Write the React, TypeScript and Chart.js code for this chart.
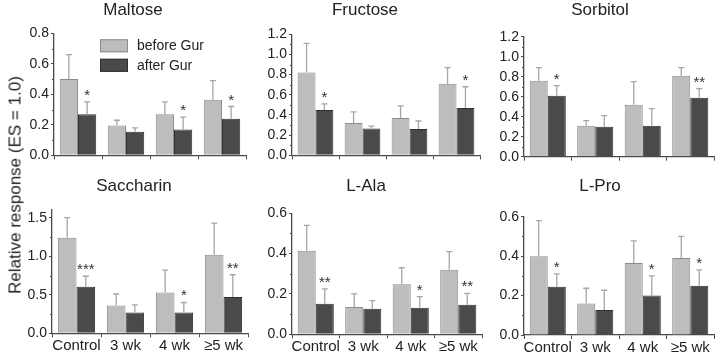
import React, { useEffect, useRef } from "react";
import { Chart, registerables } from "chart.js";

Chart.register(...registerables);

const FONT = "'Liberation Sans', Arial, Helvetica, sans-serif";

const categories = ["Control", "3 wk", "4 wk", "\u22655 wk"];
const seriesNames = ["before Gur", "after Gur"];
const yAxisTitle = "Relative response (ES = 1.0)";

// Maltose
const maltoseBefore = [0.5, 0.195, 0.27, 0.365];
const maltoseBeforeSem = [0.16, 0.035, 0.08, 0.125];
const maltoseAfter = [0.27, 0.155, 0.17, 0.24];
const maltoseAfterSem = [0.08, 0.025, 0.08, 0.08];
const maltoseStars = ["*", "", "*", "*"];

// Fructose
const fructoseBefore = [0.82, 0.32, 0.37, 0.71];
const fructoseBeforeSem = [0.29, 0.11, 0.12, 0.16];
const fructoseAfter = [0.45, 0.265, 0.26, 0.47];
const fructoseAfterSem = [0.06, 0.025, 0.08, 0.21];
const fructoseStars = ["*", "", "", "*"];

// Sorbitol
const sorbitolBefore = [0.76, 0.31, 0.52, 0.81];
const sorbitolBeforeSem = [0.13, 0.05, 0.23, 0.08];
const sorbitolAfter = [0.61, 0.3, 0.31, 0.59];
const sorbitolAfterSem = [0.1, 0.11, 0.17, 0.09];
const sorbitolStars = ["*", "", "", "**"];

// Saccharin
const saccharinBefore = [1.24, 0.36, 0.53, 1.02];
const saccharinBeforeSem = [0.26, 0.15, 0.29, 0.41];
const saccharinAfter = [0.605, 0.27, 0.27, 0.47];
const saccharinAfterSem = [0.135, 0.1, 0.13, 0.29];
const saccharinStars = ["***", "", "*", "**"];

// L-Ala
const alaBefore = [0.414, 0.135, 0.248, 0.32];
const alaBeforeSem = [0.126, 0.065, 0.082, 0.09];
const alaAfter = [0.152, 0.127, 0.132, 0.147];
const alaAfterSem = [0.073, 0.04, 0.055, 0.056];
const alaStars = ["**", "", "*", "**"];

// L-Pro
const proBefore = [0.4, 0.16, 0.365, 0.39];
const proBeforeSem = [0.18, 0.077, 0.112, 0.11];
const proAfter = [0.245, 0.127, 0.2, 0.25];
const proAfterSem = [0.065, 0.1, 0.1, 0.08];
const proStars = ["*", "", "*", "*"];

type Panel = {
  title: string;
  before: number[];
  beforeSem: number[];
  after: number[];
  afterSem: number[];
  stars: string[];
  yMax: number;
  yStep: number;
  showX: boolean;
  legend: boolean;
  // layout (canvas coordinates)
  left: number;
  top: number;
  width: number;
  height: number;
  areaLeft: number;
  areaRight: number;
  areaTop: number;
  areaBottom: number;
  titleTop: number;
};

const panels: Panel[] = [
  { title: "Maltose", before: maltoseBefore, beforeSem: maltoseBeforeSem, after: maltoseAfter, afterSem: maltoseAfterSem, stars: maltoseStars, yMax: 0.8, yStep: 0.2, showX: false, legend: true,
    left: 20, top: 0, width: 230, height: 170, areaLeft: 34, areaRight: 226, areaTop: 33.3, areaBottom: 155.3, titleTop: 0 },
  { title: "Fructose", before: fructoseBefore, beforeSem: fructoseBeforeSem, after: fructoseAfter, afterSem: fructoseAfterSem, stars: fructoseStars, yMax: 1.2, yStep: 0.2, showX: false, legend: false,
    left: 250, top: 0, width: 236, height: 170, areaLeft: 42, areaRight: 230, areaTop: 34.3, areaBottom: 155.3, titleTop: 0 },
  { title: "Sorbitol", before: sorbitolBefore, beforeSem: sorbitolBeforeSem, after: sorbitolAfter, afterSem: sorbitolAfterSem, stars: sorbitolStars, yMax: 1.2, yStep: 0.2, showX: false, legend: false,
    left: 486, top: 0, width: 234, height: 170, areaLeft: 38, areaRight: 228, areaTop: 36.7, areaBottom: 156.7, titleTop: 0 },
  { title: "Saccharin", before: saccharinBefore, beforeSem: saccharinBeforeSem, after: saccharinAfter, afterSem: saccharinAfterSem, stars: saccharinStars, yMax: 1.6, yStep: 0.5, showX: true, legend: false,
    left: 20, top: 170, width: 230, height: 185, areaLeft: 32, areaRight: 228, areaTop: 40, areaBottom: 163.3, titleTop: 6 },
  { title: "L-Ala", before: alaBefore, beforeSem: alaBeforeSem, after: alaAfter, afterSem: alaAfterSem, stars: alaStars, yMax: 0.6, yStep: 0.2, showX: true, legend: false,
    left: 250, top: 170, width: 236, height: 185, areaLeft: 42, areaRight: 232, areaTop: 43.3, areaBottom: 164.3, titleTop: 6 },
  { title: "L-Pro", before: proBefore, beforeSem: proBeforeSem, after: proAfter, afterSem: proAfterSem, stars: proStars, yMax: 0.6, yStep: 0.2, showX: true, legend: false,
    left: 486, top: 170, width: 234, height: 185, areaLeft: 38, areaRight: 228, areaTop: 46.7, areaBottom: 165, titleTop: 6 },
];

const LIGHT = "#bdbdbd";
const LIGHT_BORDER = "#8c8c8c";
const DARK = "#4a4a4a";
const DARK_BORDER = "#2f2f2f";
const AXIS = "#4a4a4a";
const TEXT = "#222222";

const errorStarPlugin = {
  id: "errorStars",
  afterDatasetsDraw(chart: any) {
    const { ctx } = chart;
    const yScale = chart.scales.y;
    chart.data.datasets.forEach((ds: any, di: number) => {
      const meta = chart.getDatasetMeta(di);
      meta.data.forEach((bar: any, i: number) => {
        const v = ds.data[i];
        const e = ds.sem[i];
        const yTop = yScale.getPixelForValue(v + e);
        ctx.save();
        ctx.strokeStyle = "#a6a6a6";
        ctx.lineWidth = 1.3;
        ctx.beginPath();
        ctx.moveTo(bar.x, bar.y);
        ctx.lineTo(bar.x, yTop);
        ctx.moveTo(bar.x - 3, yTop);
        ctx.lineTo(bar.x + 3, yTop);
        ctx.stroke();
        const s = ds.stars ? ds.stars[i] : "";
        if (s) {
          ctx.fillStyle = "#333";
          ctx.font = `15px ${FONT}`;
          ctx.textAlign = "center";
          ctx.textBaseline = "alphabetic";
          ctx.fillText(s, bar.x, yTop - 2);
        }
        ctx.restore();
      });
    });
  },
};

const minorTickPlugin = {
  id: "minorTicks",
  afterDraw(chart: any, _args: any, opts: any) {
    const step = opts && opts.step;
    if (!step) return;
    const { ctx } = chart;
    const y = chart.scales.y;
    const x0 = chart.chartArea.left;
    ctx.save();
    ctx.strokeStyle = AXIS;
    ctx.lineWidth = 1;
    for (let v = step / 2; v < y.max; v += step) {
      const py = Math.round(y.getPixelForValue(v)) + 0.5;
      ctx.beginPath();
      ctx.moveTo(x0 - 2, py);
      ctx.lineTo(x0, py);
      ctx.stroke();
    }
    ctx.restore();
  },
};

const gurLegendPlugin = {
  id: "gurLegend",
  afterDraw(chart: any, _args: any, opts: any) {
    if (!opts || !opts.show) return;
    const { ctx, chartArea } = chart;
    const bx = chartArea.left + 46;
    const rows = [chartArea.top + 6, chartArea.top + 25.5];
    chart.data.datasets.forEach((ds: any, i: number) => {
      const by = rows[i];
      ctx.save();
      ctx.fillStyle = ds.backgroundColor;
      ctx.strokeStyle = ds.borderColor;
      ctx.lineWidth = 1;
      ctx.fillRect(bx, by, 28, 13);
      ctx.strokeRect(bx + 0.5, by + 0.5, 27, 12);
      ctx.fillStyle = TEXT;
      ctx.font = `14px ${FONT}`;
      ctx.textAlign = "left";
      ctx.textBaseline = "middle";
      ctx.fillText(ds.label, bx + 37, by + 7);
      ctx.restore();
    });
  },
};

function PanelChart({ p }: { p: Panel }) {
  const ref = useRef<HTMLCanvasElement | null>(null);
  useEffect(() => {
    if (!ref.current) return;
    const titleLine = 17 * 1.2;
    const chart = new Chart(ref.current, {
      type: "bar",
      data: {
        labels: categories,
        datasets: [
          {
            label: seriesNames[0],
            data: p.before,
            sem: p.beforeSem,
            stars: null,
            backgroundColor: LIGHT,
            borderColor: LIGHT_BORDER,
            borderWidth: 1,
            categoryPercentage: 0.76,
            barPercentage: 1,
          } as any,
          {
            label: seriesNames[1],
            data: p.after,
            sem: p.afterSem,
            stars: p.stars,
            backgroundColor: DARK,
            borderColor: DARK_BORDER,
            borderWidth: 1,
            categoryPercentage: 0.76,
            barPercentage: 1,
          } as any,
        ],
      },
      options: {
        responsive: false,
        animation: false,
        devicePixelRatio: 1,
        layout: { padding: { left: 0, right: p.width - p.areaRight, top: 0, bottom: 0 } },
        plugins: {
          legend: { display: false },
          tooltip: { enabled: false },
          title: {
            display: true,
            text: p.title,
            color: TEXT,
            font: { family: FONT, size: 17, weight: "normal", lineHeight: 1.2 },
            padding: { top: p.titleTop, bottom: p.areaTop - p.titleTop - titleLine },
          },
          minorTicks: { step: p.yStep },
          gurLegend: { show: p.legend },
        } as any,
        scales: {
          x: {
            offset: true,
            grid: { display: true, drawOnChartArea: false, drawTicks: true, tickLength: 4, offset: true, color: AXIS },
            border: { display: true, color: AXIS, width: 1.3 },
            ticks: {
              display: p.showX,
              color: TEXT,
              padding: 0,
              font: { family: FONT, size: 15 },
              maxRotation: 0,
              autoSkip: false,
            },
            afterFit: (s: any) => {
              s.height = p.height - p.areaBottom;
            },
          },
          y: {
            min: 0,
            max: p.yMax,
            grid: { display: true, drawOnChartArea: false, drawTicks: true, tickLength: 3, color: AXIS },
            border: { display: true, color: AXIS, width: 1.3 },
            ticks: {
              stepSize: p.yStep,
              includeBounds: false,
              color: TEXT,
              padding: 2,
              font: { family: FONT, size: 14 },
              callback: (v: any) => Number(v).toFixed(1),
            },
            afterFit: (s: any) => {
              s.width = p.areaLeft;
            },
          },
        },
      } as any,
      plugins: [errorStarPlugin, minorTickPlugin, gurLegendPlugin],
    });
    return () => chart.destroy();
  }, [p]);
  return (
    <canvas
      ref={ref}
      width={p.width}
      height={p.height}
      style={{ position: "absolute", left: p.left, top: p.top, width: p.width, height: p.height }}
    />
  );
}

export default function App() {
  return (
    <div style={{ position: "absolute", left: 0, top: 0, width: 720, height: 355, background: "#ffffff", overflow: "hidden" }}>
      {panels.map((p) => (
        <PanelChart key={p.title} p={p} />
      ))}
      <div
        style={{
          position: "absolute",
          left: 15,
          top: 185,
          transform: "translate(-50%, -50%) rotate(-90deg)",
          whiteSpace: "nowrap",
          fontFamily: FONT,
          fontSize: 17,
          color: TEXT,
          lineHeight: "17px",
        }}
      >
        {yAxisTitle}
      </div>
    </div>
  );
}
